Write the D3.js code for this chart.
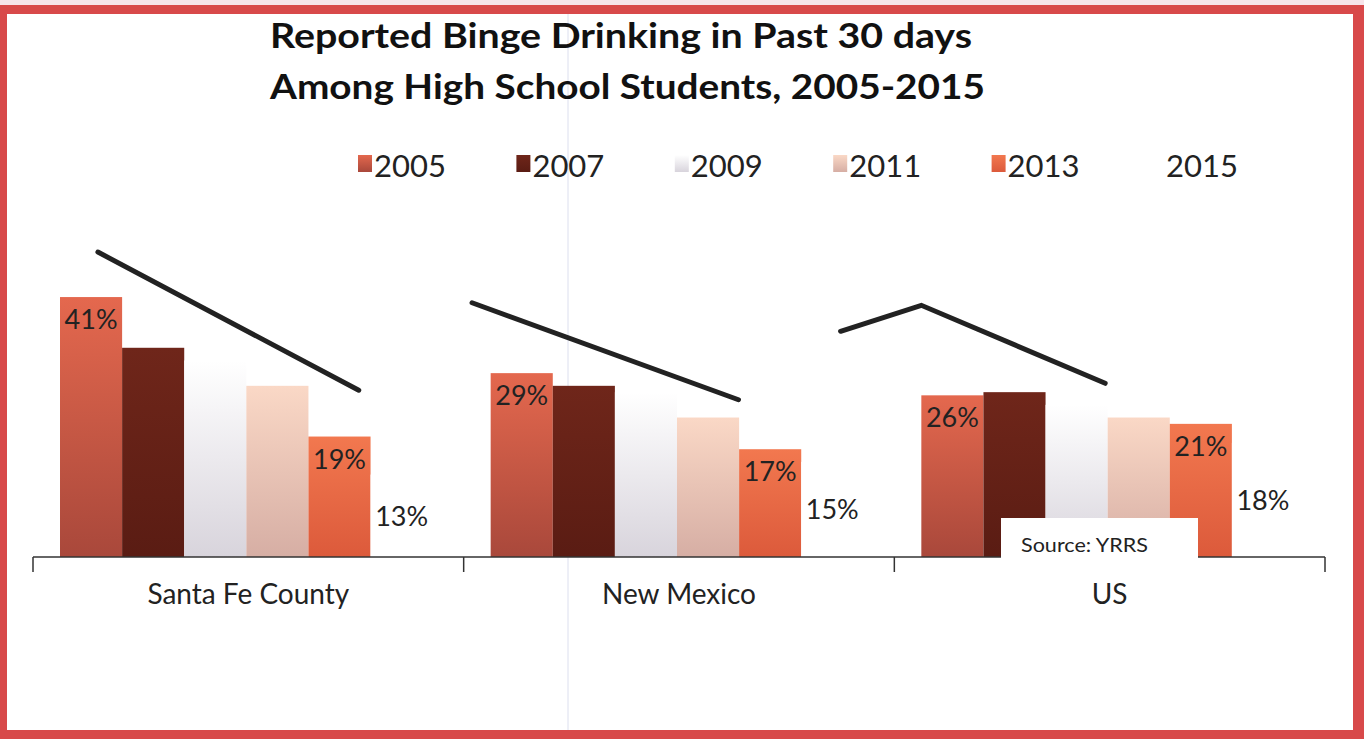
<!DOCTYPE html>
<html>
<head>
<meta charset="utf-8">
<script src="https://cdn.jsdelivr.net/npm/d3@7"></script>
<style>
  body { margin: 0; background: #fff; }
  svg { display: block; font-family: Lato, 'Open Sans', sans-serif; }
</style>
</head>
<body>
<div id="chart"></div>
<script>
// data
const groups = ['Santa Fe County', 'New Mexico', 'US']
const years = ['2005', '2007', '2009', '2011', '2013', '2015']
const santaFe = [41, 33, 31, 27, 19, 13]
const newMexico = [29, 27, 26, 22, 17, 15]
const us = [25.5, 26, 24, 22, 21, 18]
const labelledYears = ['2005', '2013', '2015']

// hand drawn trend strokes: [bar slot position, value]
const trendSantaFe = [[0.61, 48.1], [4.81, 26.3]]
const trendNewMexico = [[-0.3, 40.1], [3.99, 24.8]]
const trendUS = [[-1.3, 35.6], [0, 39.7], [2.96, 27.4]]

const W = 1364
const H = 739

const svg = d3
  .select('#chart')
  .append('svg')
  .attr('width', W)
  .attr('height', H)

// red frame
svg.append('rect').attr('width', W).attr('height', H).attr('fill', '#d8494a')
svg.append('rect').attr('width', W).attr('height', 5).attr('fill', '#f6e4ea')
svg
  .append('rect')
  .attr('x', 7)
  .attr('y', 14)
  .attr('width', 1346)
  .attr('height', 716)
  .attr('fill', '#ffffff')

// faint fold line from the scan
svg
  .append('line')
  .attr('x1', 568)
  .attr('x2', 568)
  .attr('y1', 14)
  .attr('y2', 730)
  .attr('stroke', '#dcdfee')
  .attr('stroke-width', 1)

// gradients per year
const gradStops = {
  2005: ['#e4684e', '#a9483b'],
  2007: ['#6f261a', '#5a1c13'],
  2009: ['#ffffff', '#d8d4dc'],
  2011: ['#fad8c6', '#d6aea4'],
  2013: ['#f2784f', '#dc5a3b'],
  2015: ['#ffffff', '#ffffff']
}
const defs = svg.append('defs')
years.forEach(y => {
  const g = defs
    .append('linearGradient')
    .attr('id', 'g' + y)
    .attr('x1', 0)
    .attr('y1', 0)
    .attr('x2', 0)
    .attr('y2', 1)
  g.append('stop').attr('offset', '0%').attr('stop-color', gradStops[y][0])
  g.append('stop').attr('offset', '100%').attr('stop-color', gradStops[y][1])
})

// title (the scan is a little wider than the font, so stretch it)
svg
  .append('text')
  .attr('x', 270)
  .attr('y', 48)
  .attr('font-size', 34)
  .attr('font-weight', 'bold')
  .attr('fill', '#111')
  .attr('textLength', 702)
  .attr('lengthAdjust', 'spacingAndGlyphs')
  .text('Reported Binge Drinking in Past 30 days')
svg
  .append('text')
  .attr('x', 270)
  .attr('y', 99)
  .attr('font-size', 34)
  .attr('font-weight', 'bold')
  .attr('fill', '#111')
  .attr('textLength', 715)
  .attr('lengthAdjust', 'spacingAndGlyphs')
  .text('Among High School Students, 2005-2015')

// legend
const legendX = d3.scalePoint().domain(years).range([358, 1150])
const legend = svg
  .selectAll('.legend')
  .data(years)
  .enter()
  .append('g')
  .attr('class', 'legend')
  .attr('transform', d => 'translate(' + legendX(d) + ',0)')
legend
  .append('rect')
  .attr('y', 155)
  .attr('width', 14)
  .attr('height', 17)
  .attr('fill', d => 'url(#g' + d + ')')
legend
  .append('text')
  .attr('x', 16)
  .attr('y', 177)
  .attr('font-size', 31)
  .attr('fill', '#222')
  .text(d => d)

// scales
const x0 = d3.scaleBand().domain(groups).range([33, 1325])
const x1 = d3
  .scaleBand()
  .domain(years)
  .range([27, x0.bandwidth() - 31])
const slot = d3
  .scaleLinear()
  .domain([0, years.length])
  .range([27, x0.bandwidth() - 31])
const yScale = d3.scaleLinear().domain([0, 50]).range([557, 240])

const rows = groups.map((g, i) => ({
  group: g,
  values: [santaFe, newMexico, us][i]
}))

const groupG = svg
  .selectAll('.group')
  .data(rows)
  .enter()
  .append('g')
  .attr('class', 'group')
  .attr('transform', d => 'translate(' + x0(d.group) + ',0)')

const bars = groupG
  .selectAll('.bar')
  .data(d => years.map((y, i) => ({ year: y, value: d.values[i] })))
  .enter()

bars
  .append('rect')
  .attr('x', d => x1(d.year))
  .attr('y', d => yScale(d.value))
  .attr('width', x1.bandwidth())
  .attr('height', d => yScale(0) - yScale(d.value))
  .attr('fill', d => 'url(#g' + d.year + ')')

// value labels: inside end for 2005/2013, centred for 2015
bars
  .filter(d => labelledYears.includes(d.year))
  .append('text')
  .attr('x', d => x1(d.year) + x1.bandwidth() / 2)
  .attr('y', d =>
    d.year === '2015'
      ? (yScale(d.value) + yScale(0)) / 2 + 10
      : yScale(d.value) + 32
  )
  .attr('text-anchor', 'middle')
  .attr('font-size', 27)
  .attr('fill', '#222')
  .text(d => Math.round(d.value) + '%')

// trend strokes
const trendLine = d3
  .line()
  .x(d => slot(d[0]))
  .y(d => yScale(d[1]))
groupG
  .append('path')
  .datum((d, i) => [trendSantaFe, trendNewMexico, trendUS][i])
  .attr('d', trendLine)
  .attr('fill', 'none')
  .attr('stroke', '#222')
  .attr('stroke-width', 5)
  .attr('stroke-linecap', 'round')
  .attr('stroke-linejoin', 'miter')

// axis: baseline, boundary ticks, category labels
const edges = groups.map(g => x0(g)).concat([x0.range()[1]])
svg
  .append('line')
  .attr('x1', x0.range()[0])
  .attr('x2', x0.range()[1])
  .attr('y1', yScale(0))
  .attr('y2', yScale(0))
  .attr('stroke', '#333')
  .attr('stroke-width', 1.5)
svg
  .selectAll('.edge')
  .data(edges)
  .enter()
  .append('line')
  .attr('x1', d => d)
  .attr('x2', d => d)
  .attr('y1', yScale(0))
  .attr('y2', yScale(0) + 15)
  .attr('stroke', '#333')
  .attr('stroke-width', 1.5)

const xAxis = d3.axisBottom(x0).tickSize(0).tickPadding(0)
svg
  .append('g')
  .attr('class', 'axis x-axis')
  .attr('transform', 'translate(0,' + (yScale(0) + 27) + ')')
  .call(xAxis)
svg.select('.x-axis .domain').remove()
svg
  .selectAll('.x-axis text')
  .attr('font-family', 'Lato, sans-serif')
  .attr('font-size', 28)
  .attr('fill', '#222')

// source box
svg
  .append('rect')
  .attr('x', 1001)
  .attr('y', 518)
  .attr('width', 197)
  .attr('height', 44)
  .attr('fill', '#ffffff')
svg
  .append('text')
  .attr('x', 1021)
  .attr('y', 552)
  .attr('font-size', 20)
  .attr('fill', '#222')
  .attr('textLength', 127)
  .attr('lengthAdjust', 'spacingAndGlyphs')
  .text('Source: YRRS')
</script>
</body>
</html>
